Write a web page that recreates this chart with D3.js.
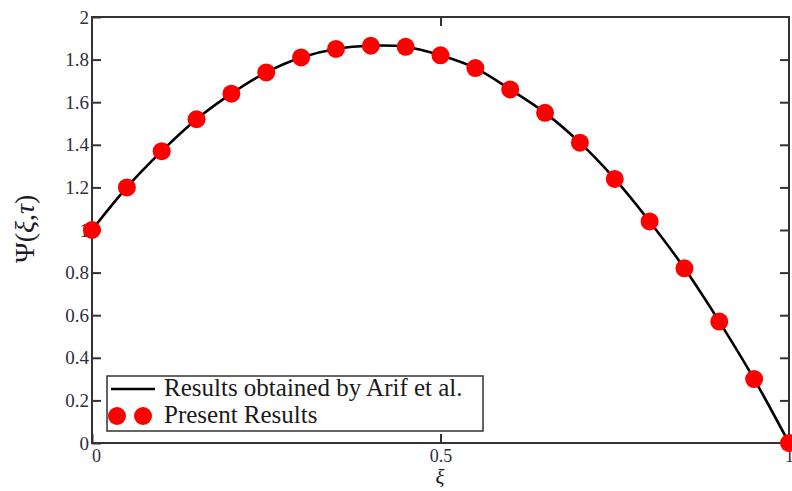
<!DOCTYPE html>
<html>
<head>
<meta charset="utf-8">
<script src="https://cdn.jsdelivr.net/npm/d3@7"></script>
<style>
  body { margin: 0; background: #fff; }
  text { font-family: "Liberation Serif", "DejaVu Serif", serif; }
</style>
</head>
<body>
<div id="chart"></div>
<script>
// xi positions and values
const xi = [0, 0.05, 0.1, 0.15, 0.2, 0.25, 0.3, 0.35, 0.4, 0.45, 0.5,
            0.55, 0.6, 0.65, 0.7, 0.75, 0.8, 0.85, 0.9, 0.95, 1];
const arifValues = [1.0, 1.20, 1.37, 1.52, 1.64, 1.74, 1.81, 1.85, 1.865, 1.86, 1.82,
                    1.76, 1.66, 1.55, 1.41, 1.24, 1.04, 0.82, 0.57, 0.30, 0.0];
const presentValues = [1.0, 1.20, 1.37, 1.52, 1.64, 1.74, 1.81, 1.85, 1.865, 1.86, 1.82,
                       1.76, 1.66, 1.55, 1.41, 1.24, 1.04, 0.82, 0.57, 0.30, 0.0];
const yTicks = [0, 0.2, 0.4, 0.6, 0.8, 1, 1.2, 1.4, 1.6, 1.8, 2];
const xTicks = [0, 0.5, 1];
const legendLabels = ["Results obtained by Arif et al.", "Present Results"];

const W = 792, H = 491;
const mLeft = 92, mRight = 789, mTop = 17, mBottom = 443;
const frame = "#333";
const tickCol = "#2e2e3e";

const svg = d3.select("#chart").append("svg")
    .attr("width", W)
    .attr("height", H);

const x = d3.scaleLinear().domain([0, 1]).range([mLeft, mRight]);
const y = d3.scaleLinear().domain([0, 2]).range([mBottom, mTop]);

// inner ticks on all four sides
const tk = 9;
const axisStyle = g => {
    g.select(".domain").remove();
    g.selectAll(".tick line").attr("stroke", frame).attr("stroke-width", 2);
    g.selectAll(".tick text")
        .attr("fill", tickCol)
        .style("font-size", "19px")
        .style("font-family", "'Liberation Serif', serif");
}

svg.append("g")
    .attr("transform", `translate(${mLeft},0)`)
    .call(d3.axisLeft(y).tickValues(yTicks).tickFormat(d3.format("")).tickSizeInner(-tk).tickPadding(3))
    .call(axisStyle);

svg.append("g")
    .attr("transform", `translate(${mRight},0)`)
    .call(d3.axisRight(y).tickValues(yTicks.slice(1, -1)).tickFormat("").tickSizeInner(-tk))
    .call(axisStyle);

svg.append("g")
    .attr("transform", `translate(0,${mBottom})`)
    .call(d3.axisBottom(x).tickValues(xTicks).tickFormat(d3.format("")).tickSizeInner(-tk).tickPadding(6))
    .call(axisStyle)
    .selectAll(".tick text")
    .style("font-size", "18px")
    .attr("dx", d => d == 0 ? 4 : 0);

svg.append("g")
    .attr("transform", `translate(0,${mTop})`)
    .call(d3.axisTop(x).tickValues([0.5]).tickFormat("").tickSizeInner(-tk))
    .call(axisStyle);

// frame
svg.append("rect")
    .attr("x", mLeft).attr("y", mTop)
    .attr("width", mRight - mLeft).attr("height", mBottom - mTop)
    .attr("fill", "none")
    .attr("stroke", frame)
    .attr("stroke-width", 2);

// curve
const arif = xi.map((d, i) => ({x: d, y: arifValues[i]}));
const present = xi.map((d, i) => ({x: d, y: presentValues[i]}));

const line = d3.line()
    .x(d => x(d.x))
    .y(d => y(d.y))
    .curve(d3.curveCatmullRom);

svg.append("path")
    .datum(arif)
    .attr("d", line)
    .attr("fill", "none")
    .attr("stroke", "#000")
    .attr("stroke-width", 2.6);

svg.append("g")
    .selectAll("circle")
    .data(present)
    .enter()
    .append("circle")
    .attr("cx", d => x(d.x))
    .attr("cy", d => y(d.y))
    .attr("r", 9)
    .attr("fill", "#f00");

// legend
const lg = svg.append("g");
lg.append("rect")
    .attr("x", 107).attr("y", 376)
    .attr("width", 376).attr("height", 55)
    .attr("fill", "#fff")
    .attr("stroke", frame)
    .attr("stroke-width", 1.5);
lg.append("line")
    .attr("x1", 111).attr("x2", 155)
    .attr("y1", 389).attr("y2", 389)
    .attr("stroke", "#000").attr("stroke-width", 2.5);
lg.selectAll("circle.leg")
    .data([117, 143])
    .enter()
    .append("circle")
    .attr("class", "leg")
    .attr("cx", d => d).attr("cy", 416)
    .attr("r", 9)
    .attr("fill", "#f00");
lg.selectAll("text")
    .data(legendLabels)
    .enter()
    .append("text")
    .attr("x", 164)
    .attr("y", (d, i) => 396 + i * 27)
    .attr("fill", "#1a1a1a")
    .style("font-size", "25px")
    .text(d => d);

// axis titles
svg.append("text")
    .attr("x", 440).attr("y", 484)
    .attr("text-anchor", "middle")
    .attr("fill", "#1a1a2a")
    .style("font-size", "21px")
    .style("font-style", "italic")
    .text("ξ");

const yt = svg.append("text")
    .attr("transform", "translate(34,263) rotate(-90)")
    .attr("text-anchor", "start")
    .attr("fill", "#1a1a2a")
    .style("font-size", "28px");
yt.append("tspan").text("Ψ(");
yt.append("tspan").style("font-style", "italic").text("ξ");
yt.append("tspan").text(",");
yt.append("tspan").style("font-style", "italic").text("τ");
yt.append("tspan").text(")");
</script>
</body>
</html>
